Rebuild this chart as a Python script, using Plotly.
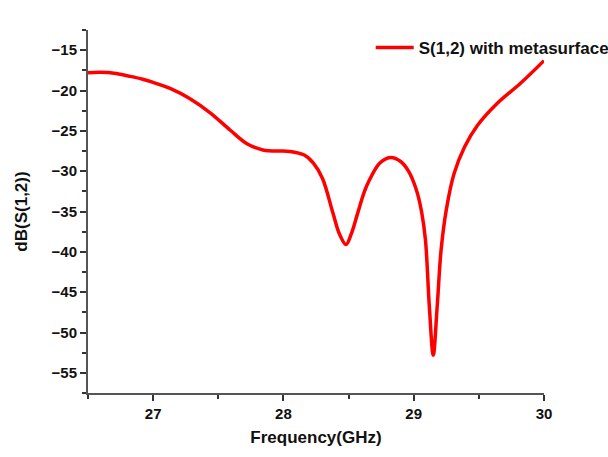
import plotly.graph_objects as go

freq = [26.5, 26.6, 26.7, 26.81, 26.92, 27.0, 27.13, 27.28, 27.44, 27.59, 27.72, 27.85, 27.95,
        28.05, 28.16, 28.23, 28.30, 28.38, 28.43, 28.48, 28.52, 28.57, 28.62, 28.66, 28.74,
        28.82, 28.9, 28.96, 29.02, 29.06, 29.09, 29.12, 29.15, 29.18, 29.21, 29.25, 29.31,
        29.39, 29.49, 29.64, 29.82, 30.0]
s12 = [-17.8, -17.75, -17.85, -18.2, -18.6, -19.0, -19.75, -21.0, -22.8, -24.9, -26.6, -27.4, -27.5,
       -27.55, -28.0, -29.0, -30.9, -35.2, -37.8, -39.1, -37.8, -35.2, -32.6, -31.1, -29.0,
       -28.3, -28.8, -30.0, -32.3, -35.0, -38.5, -46.8, -52.8, -46.8, -39.8, -34.8, -30.3,
       -27.0, -24.3, -21.6, -19.1, -16.3]

series_name = "S(1,2) with metasurface"
x_title = "Frequency(GHz)"
y_title = "dB(S(1,2))"

font = "Liberation Sans, Arial, sans-serif"

fig = go.Figure()
fig.add_trace(go.Scatter(x=freq, y=s12, mode="lines", name=series_name,
                         line=dict(color="#ff0000", width=3.5, shape="spline", smoothing=1.0)))

axis_common = dict(showgrid=False, zeroline=False, showline=True, linecolor="#555555", linewidth=2,
                   ticks="outside", ticklen=6, tickwidth=1.5, tickcolor="#333333",
                   tickfont=dict(family=font, size=15, color="#111111", weight="bold"),
                   minor=dict(ticks="outside", ticklen=4, tickwidth=1.5, tickcolor="#333333"))

fig.update_xaxes(range=[26.5, 30], tickvals=[27, 28, 29, 30], **axis_common,
                 title=dict(text=x_title, font=dict(family=font, size=17, color="#111111", weight="bold"),
                            standoff=10))
fig.update_xaxes(minor=dict(dtick=0.5, tick0=26.5))
fig.update_yaxes(range=[-57.5, -12.5], tickvals=[-55, -50, -45, -40, -35, -30, -25, -20, -15], **axis_common,
                 title=dict(text=y_title, font=dict(family=font, size=17, color="#111111", weight="bold"),
                            standoff=20))
fig.update_yaxes(minor=dict(dtick=2.5, tick0=-57.5))

fig.update_layout(
    width=608, height=457,
    margin=dict(l=88, r=64, t=30, b=64, autoexpand=False),
    paper_bgcolor="white", plot_bgcolor="white",
    showlegend=True,
    legend=dict(x=0.62, y=1.0, xanchor="left", yanchor="top", bgcolor="rgba(0,0,0,0)", itemwidth=38,
                font=dict(family=font, size=17, color="#111111", weight="bold")),
)

fig.write_html("out.html")
